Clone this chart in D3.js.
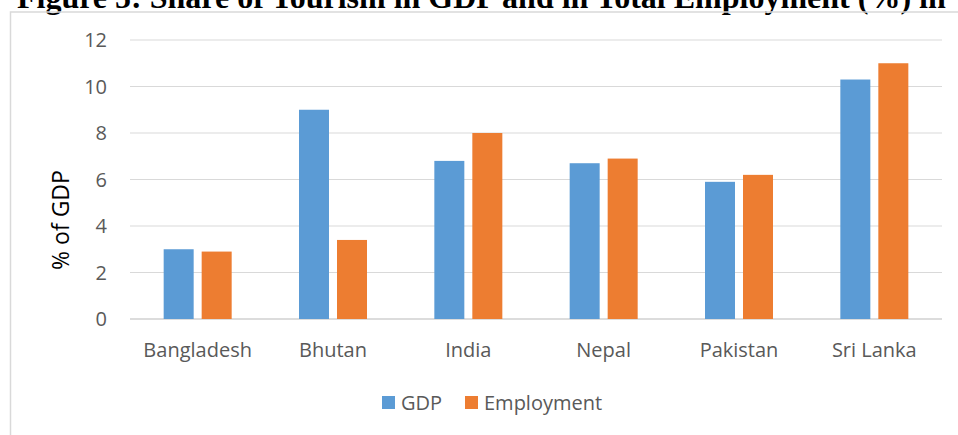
<!DOCTYPE html>
<html>
<head>
<meta charset="utf-8">
<script src="https://cdn.jsdelivr.net/npm/d3@7"></script>
<style>
  body { margin: 0; background: #fff; }
  svg { display: block; }
  text { font-family: "Open Sans", Lato, sans-serif; }
</style>
</head>
<body>
<div id="chart"></div>
<script>
// ******* data *******
var countries = ["Bangladesh", "Bhutan", "India", "Nepal", "Pakistan", "Sri Lanka"];
var gdp = [3.0, 9.0, 6.8, 6.7, 5.9, 10.3];
var employment = [2.9, 3.4, 8.0, 6.9, 6.2, 11.0];
var seriesNames = ["GDP", "Employment"];
var yTicks = [0, 2, 4, 6, 8, 10, 12];
var colour = ["#5b9bd5", "#ed7d31"];

// ******* set up *******
var w = 958;
var h = 435;
var svg = d3.select("#chart").append("svg").attr("width", w).attr("height", h);

// title, clipped at top of the page
var title = svg.append("text")
  .attr("x", 17)
  .attr("y", 8)
  .style("font-family", "'Liberation Serif', 'Times New Roman', serif")
  .style("font-weight", "bold")
  .style("font-size", "24px")
  .style("fill", "#000")
  .text("Figure 5: Share of Tourism in GDP and in Total Employment (%) in");
var tl = title.node().getComputedTextLength();
title.style("font-size", (24 * 929 / tl) + "px");

// chart border
svg.append("rect")
  .attr("x", 10.5)
  .attr("y", 12)
  .attr("width", w + 20)
  .attr("height", h + 20)
  .style("fill", "none")
  .style("stroke", "#d9d9d9")
  .style("stroke-width", 1.5);

var plotLeft = 130, plotRight = 942, plotTop = 40, plotBottom = 319;

var x = d3.scaleBand().domain(countries).range([plotLeft, plotRight]);
var y = d3.scaleLinear().domain([0, 12]).range([plotBottom, plotTop]);

// grid lines
svg.selectAll(".grid")
  .data(yTicks)
  .enter()
  .append("line")
  .attr("x1", plotLeft)
  .attr("x2", plotRight)
  .attr("y1", d => y(d))
  .attr("y2", d => y(d))
  .style("stroke", d => d === 0 ? "#d0d0d0" : "#d9d9d9")
  .style("stroke-width", d => d === 0 ? 1.5 : 1);

// y tick labels
svg.selectAll(".ytick")
  .data(yTicks)
  .enter()
  .append("text")
  .attr("x", 107)
  .attr("y", d => y(d))
  .attr("dy", "0.35em")
  .attr("text-anchor", "end")
  .style("font-size", "20px")
  .style("fill", "#595959")
  .text(d => d);

// y axis title
svg.append("text")
  .attr("transform", "translate(69,220) rotate(-90)")
  .attr("text-anchor", "middle")
  .style("font-size", "23px")
  .style("fill", "#000")
  .text("% of GDP");

// category labels
svg.selectAll(".xtick")
  .data(countries)
  .enter()
  .append("text")
  .attr("x", d => x(d) + x.bandwidth() / 2)
  .attr("y", 357)
  .attr("text-anchor", "middle")
  .style("font-size", "20px")
  .style("fill", "#595959")
  .text(d => d);

// bars
var barW = 30, gap = 8;
var series = [gdp, employment];
series.forEach(function (vals, s) {
  svg.selectAll(".bar" + s)
    .data(vals)
    .enter()
    .append("rect")
    .attr("x", (d, i) => x(countries[i]) + x.bandwidth() / 2 - (barW + gap / 2) + s * (barW + gap))
    .attr("y", d => y(d))
    .attr("width", barW)
    .attr("height", d => y(0) - y(d))
    .style("fill", colour[s]);
});

// legend
var legX = [382, 465];
seriesNames.forEach(function (name, i) {
  svg.append("rect")
    .attr("x", legX[i])
    .attr("y", 396)
    .attr("width", 13)
    .attr("height", 13)
    .style("fill", colour[i]);
  svg.append("text")
    .attr("x", legX[i] + 19)
    .attr("y", 403)
    .attr("dy", "0.35em")
    .style("font-size", "20px")
    .style("fill", "#595959")
    .text(name);
});
</script>
</body>
</html>
